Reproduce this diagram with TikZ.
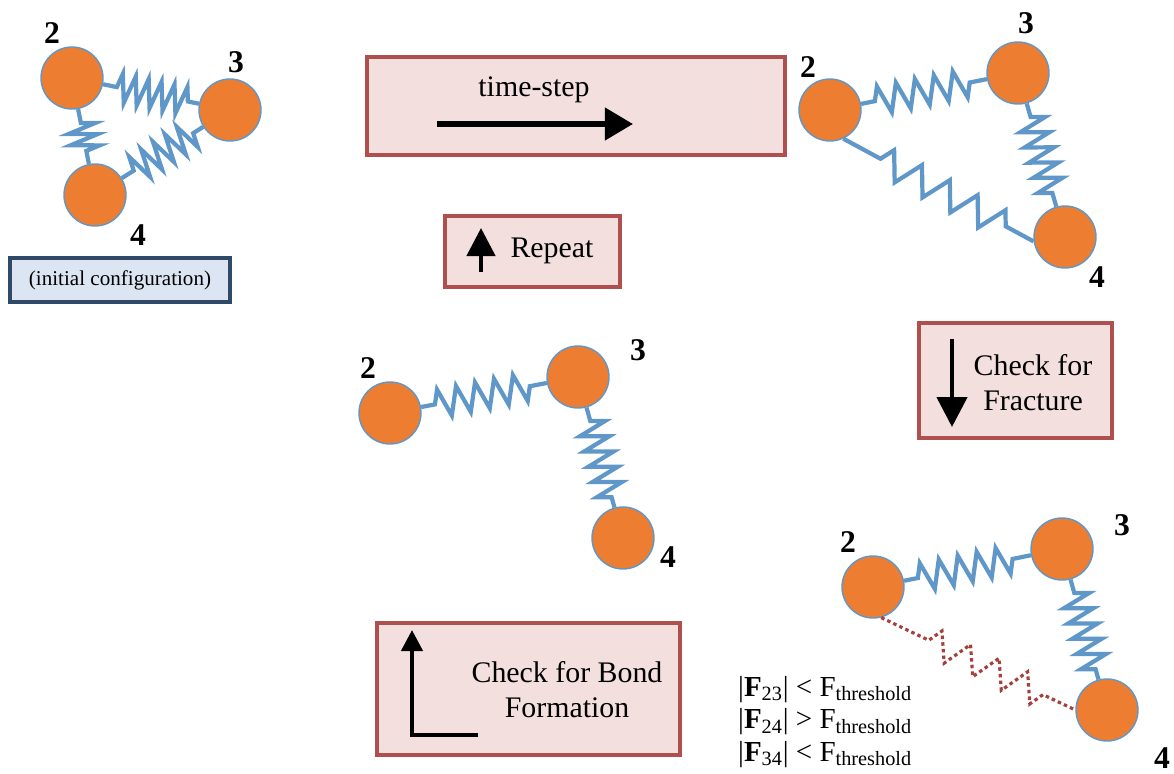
\documentclass[tikz,border=0pt]{standalone}
\usepackage{fontspec}
\setmainfont{Liberation Serif}
\usetikzlibrary{arrows.meta,decorations.pathmorphing}

\definecolor{ballorange}{HTML}{ED7D31}
\definecolor{springblue}{HTML}{5F97C8}
\definecolor{boxfill}{HTML}{F2DFDE}
\definecolor{boxline}{HTML}{B0504E}
\definecolor{notefill}{HTML}{DCE6F2}
\definecolor{noteline}{HTML}{2E4A68}
\definecolor{brokenred}{HTML}{A5413D}

\begin{document}
\begin{tikzpicture}[
        x = 0.02cm, y = -0.02cm, % one unit per pixel, y pointing down
        > = {Triangle[length=16pt, width=18pt]}, % big arrow head
        ball/.style = {circle, fill=ballorange, draw=springblue, line width=0.8pt,
            minimum size=1.24cm, inner sep=0pt},
        num/.style = {font=\fontsize{18}{18}\selectfont\bfseries},
        bond/.style = {springblue, line width=2.4pt, decorate,
            decoration={zigzag, segment length=#1, amplitude=8pt,
                pre length=8pt, post length=6pt}},
        stretched/.style = {decoration={segment length=18pt, amplitude=8pt,
                pre length=24pt, post length=14pt}},
        broken/.style = {brokenred, line width=1.8pt, dash pattern=on 2pt off 1.8pt,
            decorate, decoration={zigzag, segment length=18pt, amplitude=8pt,
                pre length=30pt, post length=14pt}},
        stepbox/.style = {draw=boxline, fill=boxfill, line width=2pt, inner sep=0pt},
        txt/.style = {font=\fontsize{17}{20}\selectfont, align=center},
        bigarrow/.style = {->, line width=3.2pt},
    ]
    \useasboundingbox (0,0) rectangle (1174,774);

    % initial configuration
    \node[ball] (a2) at (72,78) {};
    \node[ball] (a3) at (230,110) {};
    \node[ball] (a4) at (95,195) {};
    \node[num] (a2l) at (52,33) {2};
    \node[num] (a3l) at (236,62) {3};
    \node[num] (a4l) at (138,235) {4};
    \draw[bond=7.5pt] (a2) -- (a3);
    \draw[bond=6.5pt] (a2) -- (a4);
    \draw[bond=8pt] (a4) -- (a3);
    \node[draw=noteline, fill=notefill, line width=2pt, minimum width=4.4cm,
        minimum height=0.88cm, font=\fontsize{12}{14}\selectfont] (init) at (120,280)
        {(initial configuration)};

    % time-step
    \node[stepbox, minimum width=8.36cm, minimum height=1.96cm] (tsbox) at (576,106) {};
    \node[txt] (tstext) at (534,90) {time-step};
    \coordinate (tsa) at (437,124);
    \coordinate (tsb) at (633,124);
    \draw[bigarrow] (tsa) -- (tsb);

    % after the step
    \node[ball] (b2) at (830,110) {};
    \node[ball] (b3) at (1018,73) {};
    \node[ball] (b4) at (1065,237) {};
    \node[num] (b2l) at (808,67) {2};
    \node[num] (b3l) at (1026,23) {3};
    \node[num] (b4l) at (1097,277) {4};
    \draw[bond=11pt] (b2) -- (b3);
    \draw[bond=9pt] (b3) -- (b4);
    \draw[bond=18pt, stretched] (b2.-65) -- (b4.188);

    % check for fracture
    \node[stepbox, minimum width=3.86cm, minimum height=2.3cm] (frbox) at (1015.5,380.5) {};
    \node[txt] (frtext) at (1033,383) {Check for\\Fracture};
    \coordinate (fra) at (952,339);
    \coordinate (frb) at (952,427);
    \draw[bigarrow, line width=2.6pt, > = {Triangle[length=17pt, width=17pt]}] (fra) -- (frb);

    % forces on the bonds
    \node[ball] (d2) at (873,587) {};
    \node[ball] (d3) at (1062,549) {};
    \node[ball] (d4) at (1107,710) {};
    \node[num] (d2l) at (848,542) {2};
    \node[num] (d3l) at (1122,525) {3};
    \node[num] (d4l) at (1162,758) {4};
    \draw[bond=11pt] (d2) -- (d3);
    \draw[bond=9pt] (d3) -- (d4);
    \draw[broken] (d2.-75) -- (d4.180);
    \node[anchor=west, align=left, font=\fontsize{16.5}{18.5}\selectfont] (forces) at (732,722)
        {|\textbf{F}\textsubscript{23}| < F\textsubscript{threshold}\\
         |\textbf{F}\textsubscript{24}| > F\textsubscript{threshold}\\
         |\textbf{F}\textsubscript{34}| < F\textsubscript{threshold}};

    % check for bond formation
    \node[stepbox, minimum width=6.06cm, minimum height=2.64cm] (bfbox) at (528.5,689) {};
    \node[txt] (bftext) at (567,690) {Check for Bond\\Formation};
    \coordinate (bfa) at (478,735);
    \coordinate (bfc) at (412,735);
    \coordinate (bfb) at (412,630);
    \draw[bigarrow, line width=2.4pt, > = {Triangle[length=12pt, width=12pt]}]
        (bfa) -- (bfc) -- (bfb);

    % bond left broken
    \node[ball] (c2) at (390,413) {};
    \node[ball] (c3) at (578,377) {};
    \node[ball] (c4) at (623,538) {};
    \node[num] (c2l) at (368,368) {2};
    \node[num] (c3l) at (638,350) {3};
    \node[num] (c4l) at (668,557) {4};
    \draw[bond=11pt] (c2) -- (c3);
    \draw[bond=9pt] (c3) -- (c4);

    % repeat
    \node[stepbox, minimum width=3.5cm, minimum height=1.42cm] (rpbox) at (532.5,251.5) {};
    \node[txt] (rptext) at (552,251) {Repeat};
    \coordinate (rpa) at (481,272);
    \coordinate (rpb) at (481,228);
    \draw[bigarrow, line width=2.6pt, > = {Triangle[length=16pt, width=16pt]}] (rpa) -- (rpb);
\end{tikzpicture}
\end{document}
